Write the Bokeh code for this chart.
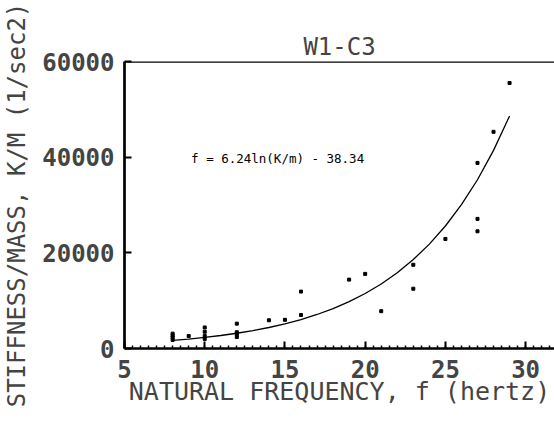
from bokeh.plotting import figure
from bokeh.models import Span, Label, FixedTicker, Range1d
from bokeh.embed import file_html
from bokeh.resources import INLINE

# ---- data ----
freq = [8, 8, 8, 8, 9, 10, 10, 10, 10, 12, 12, 12, 12, 14, 15, 16, 16,
        19, 20, 21, 23, 23, 25, 27, 27, 27, 28, 29]
stiff_mass = [1800, 2300, 2700, 3100, 2600, 4400, 3500, 2600, 2000,
              5200, 3400, 3000, 2400, 5900, 6000, 11900, 7000,
              14400, 15600, 7800, 17500, 12500, 22900, 38800, 27100, 24500,
              45300, 55500]

# fitted curve f = 6.24 ln(K/m) - 38.34
fit_freq = [8, 9, 10, 11, 12, 13, 14, 15, 16, 17, 18, 19, 20, 21, 22, 23,
            24, 25, 26, 27, 28, 29]
fit_km = [1680, 1970, 2310, 2720, 3190, 3740, 4390, 5160, 6050, 7110, 8340,
          9790, 11490, 13490, 15830, 18590, 21820, 25610, 30060, 35280,
          41420, 48610]

x_ticks = [5, 10, 15, 20, 25, 30]
y_ticks = [0, 20000, 40000, 60000]
title_text = "W1-C3"
x_label = "NATURAL FREQUENCY, f (hertz)"
y_label = "STIFFNESS/MASS, K/M (1/sec2)"
eq_text = "f = 6.24ln(K/m) - 38.34"
eq_x, eq_y = 9.15, 39700

X_MIN, X_MAX = 5, 31.8
Y_MIN, Y_MAX = 0, 60000

MONO = "DejaVu Sans Mono"

p = figure(width=554, height=447, output_backend="svg", toolbar_location=None,
           x_range=Range1d(X_MIN, X_MAX), y_range=Range1d(Y_MIN, Y_MAX),
           min_border_left=122, min_border_top=61, min_border_bottom=99,
           min_border_right=0)
p.title.text = title_text
p.title.align = "center"
p.title.text_font = MONO
p.title.text_font_size = "24px"
p.title.text_font_style = "normal"
p.title.standoff = 2
p.title.offset = 0

p.outline_line_color = None
p.grid.visible = False
p.background_fill_color = "white"
p.border_fill_color = "white"

# x axis
xa = p.xaxis[0]
xa.ticker = FixedTicker(ticks=x_ticks,
                        minor_ticks=[X_MIN + 0.5 * i for i in range(int((X_MAX - X_MIN) / 0.5) + 1)])
xa.axis_line_width = 2.5
xa.axis_line_color = "black"
xa.major_tick_in = 7
xa.major_tick_out = 0
xa.major_tick_line_width = 2
xa.minor_tick_in = 3
xa.minor_tick_out = 0
xa.minor_tick_line_width = 1.5
xa.major_label_text_font = MONO
xa.major_label_text_font_style = "bold"
xa.major_label_text_font_size = "24px"
xa.major_label_standoff = 11
xa.axis_label = x_label
xa.axis_label_text_font = MONO
xa.axis_label_text_font_style = "normal"
xa.axis_label_text_font_size = "25px"
xa.axis_label_standoff = -4

# y axis
ya = p.yaxis[0]
ya.ticker = FixedTicker(ticks=y_ticks, minor_ticks=[])
ya.axis_line_width = 2.7
ya.axis_line_color = "black"
ya.major_tick_in = 7
ya.major_tick_out = 0
ya.major_tick_line_width = 2
ya.minor_tick_line_color = None
ya.major_label_text_font = MONO
ya.major_label_text_font_style = "bold"
ya.major_label_text_font_size = "24px"
ya.major_label_standoff = 10
ya.axis_label = y_label
ya.axis_label_text_font = MONO
ya.axis_label_text_font_style = "normal"
ya.axis_label_text_font_size = "24px"
ya.axis_label_standoff = 8

# top border line
p.add_layout(Span(location=Y_MAX, dimension="width", line_color="black", line_width=2.5))

# fitted curve and points
p.line(fit_freq, fit_km, line_color="black", line_width=1.3)
p.scatter(freq, stiff_mass, marker="square", size=3, color="black")

p.add_layout(Label(x=eq_x, y=eq_y, text=eq_text, text_font=MONO,
                   text_font_size="12.5px", text_align="left",
                   text_baseline="middle", text_color="black"))

open("out.html", "w").write(file_html(p, INLINE))
